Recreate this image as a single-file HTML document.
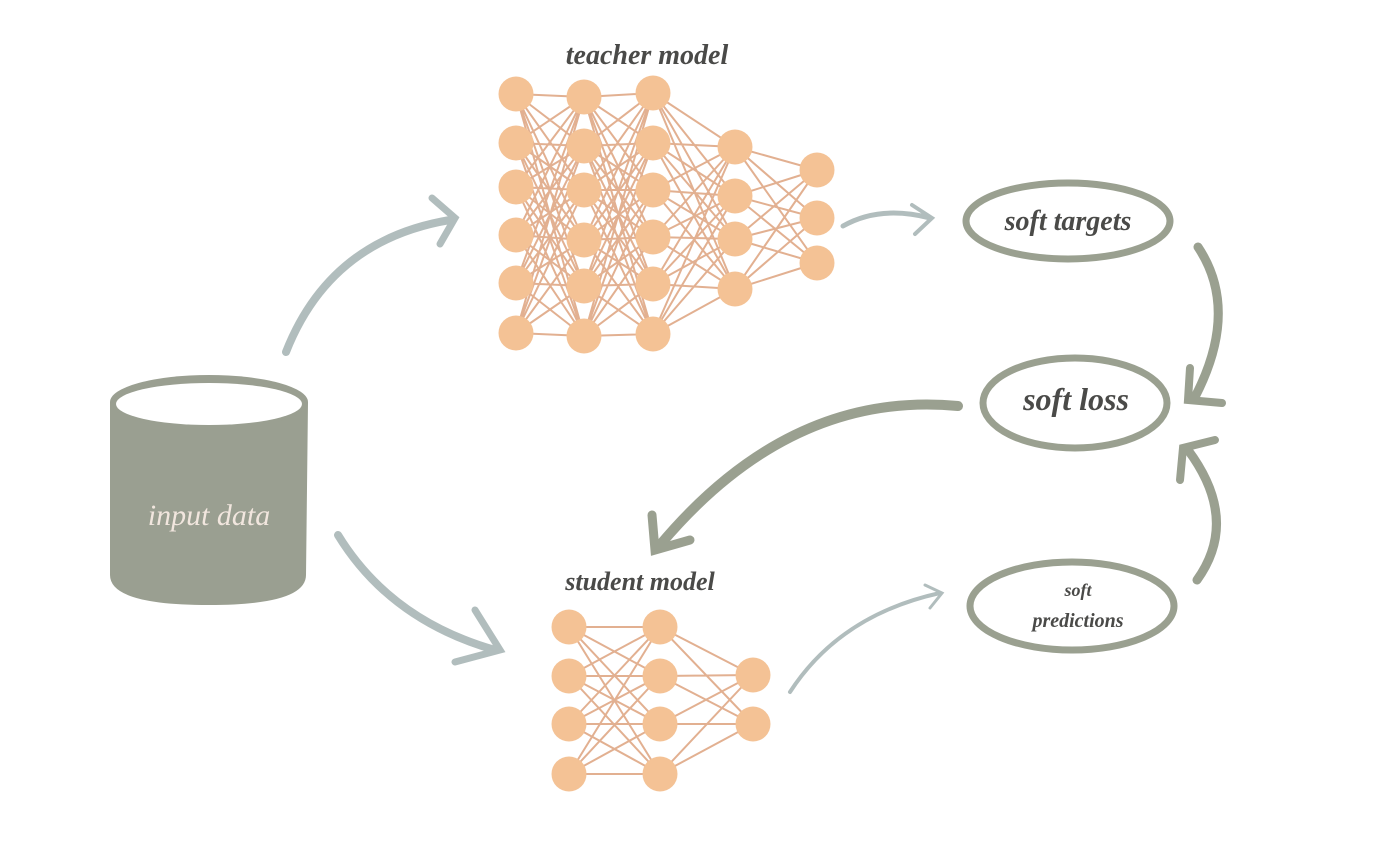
<!DOCTYPE html>
<html><head><meta charset="utf-8"><style>
html,body{margin:0;padding:0;background:#fff;width:1400px;height:860px;overflow:hidden}
svg{display:block}
.t{font-family:"Liberation Serif",serif;font-style:italic;font-weight:bold;fill:#4a4a48}
</style></head><body>
<svg width="1400" height="860" viewBox="0 0 1400 860" xmlns="http://www.w3.org/2000/svg">
<g fill="none" stroke="#e2b091" stroke-width="2">
<path d="M516 94L584 97M516 94L584 146M516 94L584 190M516 94L584 240M516 94L584 286M516 94L584 336
M516 143L584 97M516 143L584 146M516 143L584 190M516 143L584 240M516 143L584 286M516 143L584 336
M516 187L584 97M516 187L584 146M516 187L584 190M516 187L584 240M516 187L584 286M516 187L584 336
M516 235L584 97M516 235L584 146M516 235L584 190M516 235L584 240M516 235L584 286M516 235L584 336
M516 283L584 97M516 283L584 146M516 283L584 190M516 283L584 240M516 283L584 286M516 283L584 336
M516 333L584 97M516 333L584 146M516 333L584 190M516 333L584 240M516 333L584 286M516 333L584 336"/>
<path d="M584 97L653 93M584 97L653 143M584 97L653 190M584 97L653 237M584 97L653 284M584 97L653 334
M584 146L653 93M584 146L653 143M584 146L653 190M584 146L653 237M584 146L653 284M584 146L653 334
M584 190L653 93M584 190L653 143M584 190L653 190M584 190L653 237M584 190L653 284M584 190L653 334
M584 240L653 93M584 240L653 143M584 240L653 190M584 240L653 237M584 240L653 284M584 240L653 334
M584 286L653 93M584 286L653 143M584 286L653 190M584 286L653 237M584 286L653 284M584 286L653 334
M584 336L653 93M584 336L653 143M584 336L653 190M584 336L653 237M584 336L653 284M584 336L653 334"/>
<path d="M653 93L735 147M653 93L735 196M653 93L735 239M653 93L735 289
M653 143L735 147M653 143L735 196M653 143L735 239M653 143L735 289
M653 190L735 147M653 190L735 196M653 190L735 239M653 190L735 289
M653 237L735 147M653 237L735 196M653 237L735 239M653 237L735 289
M653 284L735 147M653 284L735 196M653 284L735 239M653 284L735 289
M653 334L735 147M653 334L735 196M653 334L735 239M653 334L735 289"/>
<path d="M735 147L817 170M735 147L817 218M735 147L817 263
M735 196L817 170M735 196L817 218M735 196L817 263
M735 239L817 170M735 239L817 218M735 239L817 263
M735 289L817 170M735 289L817 218M735 289L817 263"/>
<path d="M569 627L660 627M569 627L660 676M569 627L660 724M569 627L660 774
M569 676L660 627M569 676L660 676M569 676L660 724M569 676L660 774
M569 724L660 627M569 724L660 676M569 724L660 724M569 724L660 774
M569 774L660 627M569 774L660 676M569 774L660 724M569 774L660 774
M660 627L753 675M660 627L753 724M660 676L753 675M660 676L753 724
M660 724L753 675M660 724L753 724M660 774L753 675M660 774L753 724"/>
</g>
<g fill="#f4c295">
<circle cx="516" cy="94" r="17.5"/><circle cx="516" cy="143" r="17.5"/><circle cx="516" cy="187" r="17.5"/><circle cx="516" cy="235" r="17.5"/><circle cx="516" cy="283" r="17.5"/><circle cx="516" cy="333" r="17.5"/>
<circle cx="584" cy="97" r="17.5"/><circle cx="584" cy="146" r="17.5"/><circle cx="584" cy="190" r="17.5"/><circle cx="584" cy="240" r="17.5"/><circle cx="584" cy="286" r="17.5"/><circle cx="584" cy="336" r="17.5"/>
<circle cx="653" cy="93" r="17.5"/><circle cx="653" cy="143" r="17.5"/><circle cx="653" cy="190" r="17.5"/><circle cx="653" cy="237" r="17.5"/><circle cx="653" cy="284" r="17.5"/><circle cx="653" cy="334" r="17.5"/>
<circle cx="735" cy="147" r="17.5"/><circle cx="735" cy="196" r="17.5"/><circle cx="735" cy="239" r="17.5"/><circle cx="735" cy="289" r="17.5"/>
<circle cx="817" cy="170" r="17.5"/><circle cx="817" cy="218" r="17.5"/><circle cx="817" cy="263" r="17.5"/>
<circle cx="569" cy="627" r="17.5"/><circle cx="569" cy="676" r="17.5"/><circle cx="569" cy="724" r="17.5"/><circle cx="569" cy="774" r="17.5"/>
<circle cx="660" cy="627" r="17.5"/><circle cx="660" cy="676" r="17.5"/><circle cx="660" cy="724" r="17.5"/><circle cx="660" cy="774" r="17.5"/>
<circle cx="753" cy="675" r="17.5"/><circle cx="753" cy="724" r="17.5"/>
</g>

<!-- cylinder -->
<path d="M110 402 L110 575 Q110 605 209 605 Q306 605 306 575 L308 402 Z" fill="#9a9f91"/>
<ellipse cx="209" cy="402" rx="99" ry="27" fill="#9a9f91"/>
<ellipse cx="209" cy="404" rx="93" ry="21" fill="#fff"/>
<text x="209" y="525" text-anchor="middle" font-family="Liberation Serif,serif" font-style="italic" font-size="30" fill="#f1e6de">input data</text>

<text class="t" x="647" y="64" text-anchor="middle" font-size="28">teacher model</text>
<text class="t" x="640" y="590" text-anchor="middle" font-size="26">student model</text>

<g fill="none" stroke="#b1bdbd" stroke-linecap="round">
<path d="M286 352 Q330 240 450 220" stroke-width="8"/>
<path d="M432 198 L455 218 L440 244" stroke-width="7"/>
<path d="M338 535 Q390 620 495 650" stroke-width="8"/>
<path d="M475 610 L500 650 L455 662" stroke-width="7"/>
<path d="M843 226 Q880 205 930 218" stroke-width="5"/>
<path d="M912 205 L932 218 L915 234" stroke-width="4"/>
<path d="M790 692 Q840 615 940 593" stroke-width="4"/>
<path d="M925 585 L942 593 L930 608" stroke-width="3"/>
</g>

<g fill="none" stroke="#9aa090" stroke-linecap="round">
<ellipse cx="1068" cy="221" rx="102" ry="38" stroke-width="7"/>
<ellipse cx="1075" cy="403" rx="92" ry="45" stroke-width="7"/>
<ellipse cx="1072" cy="606" rx="102" ry="44" stroke-width="7"/>
<path d="M1198 247 Q1240 310 1195 397" stroke-width="9"/>
<path d="M1190 368 L1188 400 L1222 403" stroke-width="8"/>
<path d="M1197 580 Q1240 520 1188 450" stroke-width="9"/>
<path d="M1180 480 L1183 448 L1215 440" stroke-width="8"/>
<path d="M958 406 Q790 390 660 545" stroke-width="10"/>
<path d="M652 515 L655 550 L690 540" stroke-width="9"/>
</g>

<text class="t" x="1068" y="230" text-anchor="middle" font-size="28">soft targets</text>
<text class="t" x="1076" y="410" text-anchor="middle" font-size="32">soft loss</text>
<text class="t" x="1078" y="596" text-anchor="middle" font-size="18">soft</text>
<text class="t" x="1078" y="627" text-anchor="middle" font-size="20">predictions</text>
</svg>
</body></html>
